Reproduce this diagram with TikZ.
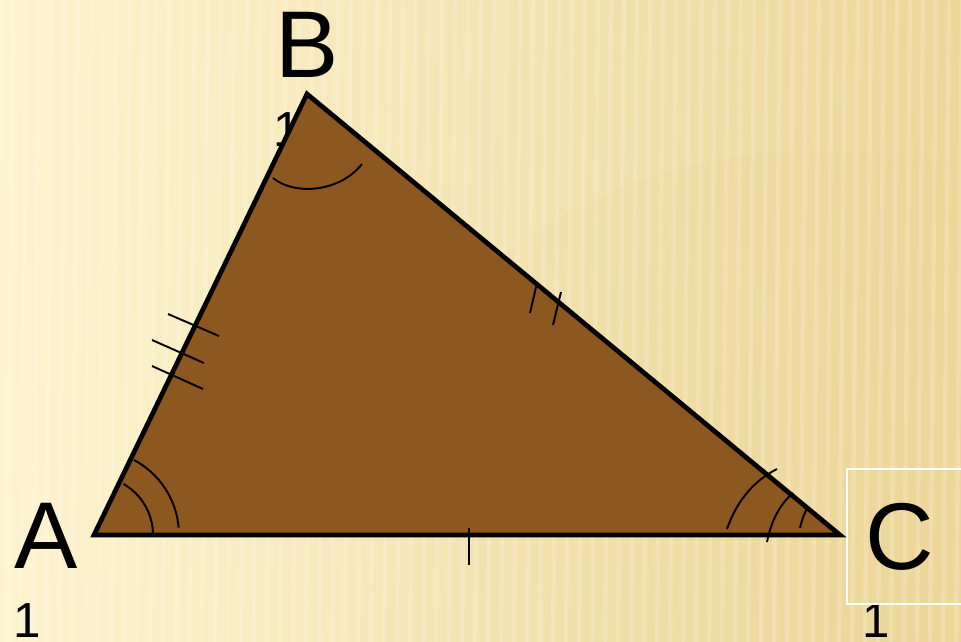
\documentclass[tikz,border=0pt]{standalone}
\usepackage{fontspec}
\setmainfont{Liberation Sans}
\usepackage{tikz}
\usetikzlibrary{fadings}
\definecolor{bglight}{RGB}{253,243,207}
\definecolor{bgdark}{RGB}{236,214,152}
\definecolor{trifill}{RGB}{141,87,32}
\tikzfading[name=fadein,left color=transparent!100,right color=transparent!0]
\tikzstyle{tri}=[draw=black,fill=trifill,line width=2.7pt]
\tikzstyle{angarc}=[draw=black,line width=1.1pt]
\tikzstyle{tickln}=[draw=black,line width=1.1pt]
\tikzstyle{vlabel}=[anchor=base,inner sep=0pt,font=\fontsize{54}{60}\selectfont]
\tikzstyle{sublabel}=[anchor=base,inner sep=0pt,font=\fontsize{28}{32}\selectfont]

\begin{document}
\begin{tikzpicture}[x=0.02cm,y=-0.02cm]
    \useasboundingbox (0,0) rectangle (961,642);
    \begin{scope}
      \clip (0,0) rectangle (961,642);
      \shade[left color=bglight,right color=bgdark] (0,0) rectangle (961,642);
      \fill[bgdark,opacity=0.6,path fading=fadein] (820,540) ellipse [x radius=460,y radius=390];
      \foreach \x in {0,13,...,975}
        \draw[white,opacity=0.18,line width=2.5pt] (\x,0) -- (\x-6,642);
    \end{scope}
    % vertex names
    \node[vlabel] (labA) at (46,568) {A};
    \node[vlabel] (labB) at (307,78) {B};
    \node[vlabel] (labC) at (900,569) {C};
    \node[sublabel] (subA) at (27,637) {1};
    \node[sublabel] (subB) at (287,147) {1};
    \node[sublabel] (subC) at (876,637) {1};
    \draw[white,line width=0.9pt] (847,469) rectangle (975,604);
    % triangle
    \coordinate (A) at (94,535);
    \coordinate (B) at (307,94);
    \coordinate (C) at (840,535);
    \filldraw[tri] (A) -- (B) -- (C) -- cycle;
    % angles
    \draw[angarc] (A) ++(0:59) arc[start angle=0,end angle=-60,radius=59];
    \draw[angarc] (A) ++(-5:85) arc[start angle=-5,end angle=-62,radius=85];
    \draw[angarc] (273,178) .. controls (295,196) and (340,192) .. (362,164);
    \draw[angarc] (727,529) .. controls (737,500) and (755,480) .. (777,469);
    \draw[angarc] (767,542) .. controls (771,522) and (779,505) .. (793,493);
    \draw[angarc] (800,528) .. controls (802,520) and (804,513) .. (808,507);
    % equal sides
    \draw[tickln] (168,314) -- (219,336);
    \draw[tickln] (152,340) -- (204,363);
    \draw[tickln] (152,366) -- (203,389);
    \draw[tickln] (537,283) -- (530,313);
    \draw[tickln] (561,292) -- (553,325);
    \draw[tickln] (469,528) -- (469,565);
\end{tikzpicture}
\end{document}
